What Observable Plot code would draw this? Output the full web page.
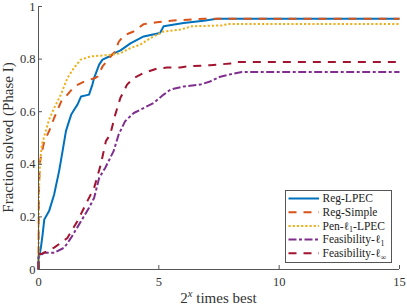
<!DOCTYPE html>
<html><head><meta charset="utf-8">
<script src="https://cdn.jsdelivr.net/npm/d3@7"></script>
<script src="https://cdn.jsdelivr.net/npm/@observablehq/plot@0.6"></script>
<style>body{margin:0;background:#fff}#chart{position:relative;width:407px;height:304px}</style>
</head><body><div id="chart"></div>
<script>
// ---- data ----
const seriesNames = ["Reg-LPEC", "Reg-Simple", "Pen-ℓ1-LPEC", "Feasibility-ℓ1", "Feasibility-ℓ∞"];
const regLpecX = [0, 0, 0.03, 0.1, 0.17, 0.24, 0.44, 0.65, 0.86, 1.0, 1.14, 1.27, 1.36, 1.5, 1.62, 1.77, 2.1, 2.24, 2.31, 2.52, 2.66, 2.94, 3.15, 3.41, 3.82, 4.37, 5.05, 5.2, 6.03, 6.86, 7.42, 15];
const regLpecY = [0, 0.05, 0.05, 0.083, 0.133, 0.19, 0.222, 0.285, 0.376, 0.45, 0.526, 0.564, 0.589, 0.61, 0.627, 0.658, 0.665, 0.703, 0.728, 0.779, 0.798, 0.81, 0.823, 0.833, 0.86, 0.886, 0.899, 0.925, 0.937, 0.946, 0.953, 0.953];
const regSimpleX = [0, 0.02, 0.05, 0.1, 0.24, 0.44, 0.65, 0.97, 1.14, 1.49, 1.9, 2.35, 2.46, 2.66, 3.0, 3.19, 3.33, 3.54, 3.95, 4.37, 4.92, 5.61, 6.86, 15];
const regSimpleY = [0, 0.3, 0.4, 0.43, 0.488, 0.526, 0.576, 0.645, 0.658, 0.696, 0.715, 0.728, 0.734, 0.772, 0.81, 0.83, 0.865, 0.89, 0.905, 0.933, 0.94, 0.947, 0.953, 0.953];
const penL1X = [0, 0.02, 0.06, 0.14, 0.44, 0.65, 0.93, 1.2, 1.47, 1.75, 2.16, 2.71, 3.06, 3.39, 3.82, 4.23, 4.65, 5.2, 5.89, 6.38, 7.68, 7.82, 15];
const penL1Y = [0, 0.3, 0.4, 0.475, 0.57, 0.614, 0.665, 0.728, 0.766, 0.798, 0.81, 0.814, 0.817, 0.822, 0.842, 0.855, 0.88, 0.905, 0.912, 0.925, 0.928, 0.933, 0.933];
const feasL1X = [0, 0, 0.03, 0.24, 0.65, 1.07, 1.35, 1.77, 2.1, 2.31, 2.52, 2.77, 3.12, 3.33, 3.6, 3.96, 4.37, 4.78, 5.2, 5.48, 6.03, 6.72, 7.13, 7.55, 8.1, 8.45, 15];
const feasL1Y = [0, 0.045, 0.05, 0.064, 0.064, 0.083, 0.12, 0.184, 0.235, 0.272, 0.348, 0.386, 0.45, 0.513, 0.564, 0.595, 0.614, 0.633, 0.665, 0.684, 0.696, 0.703, 0.715, 0.733, 0.745, 0.751, 0.751];
const feasInfX = [0, 0, 0.03, 0.14, 0.65, 1.2, 1.62, 2.03, 2.31, 2.59, 2.8, 2.98, 3.19, 3.4, 3.68, 3.96, 4.37, 4.92, 5.34, 5.89, 6.17, 7.13, 7.97, 8.1, 15];
const feasInfY = [0, 0.05, 0.058, 0.06, 0.083, 0.12, 0.184, 0.26, 0.31, 0.4, 0.488, 0.513, 0.589, 0.652, 0.703, 0.728, 0.747, 0.764, 0.768, 0.768, 0.772, 0.777, 0.783, 0.789, 0.789];
const xTicks = [0, 5, 10, 15];
const xTickLabels = ["0", "5", "10", "15"];
const yTicks = [0, 0.2, 0.4, 0.6, 0.8, 1];
const yTickLabels = ["0", "0.2", "0.4", "0.6", "0.8", "1"];

// ---- styles ----
const seriesXs = [regLpecX, regSimpleX, penL1X, feasL1X, feasInfX];
const seriesYs = [regLpecY, regSimpleY, penL1Y, feasL1Y, feasInfY];
const styles = [
  {stroke: "#0072BD", dash: null},
  {stroke: "#D95319", dash: "8,7"},
  {stroke: "#EDB120", dash: "2.2,2"},
  {stroke: "#7E2F8E", dash: "8,2.5,3,2.5"},
  {stroke: "#A2142F", dash: "8,7"}
];
const FONT = "'Liberation Serif', 'DejaVu Serif', serif";

const lineMarks = seriesNames.map((name, i) => {
  const pts = seriesXs[i].map((x, j) => ({series: name, x, y: seriesYs[i][j]}));
  return Plot.line(pts, {x: "x", y: "y", stroke: styles[i].stroke, strokeWidth: 2,
    strokeDasharray: styles[i].dash, strokeLinecap: "butt", strokeLinejoin: "round"});
});

const W = 407, H = 304, ML = 38, MR = 8, MT = 6, MB = 35;
const plot = Plot.plot({
  width: W, height: H, marginLeft: ML, marginRight: MR, marginTop: MT, marginBottom: MB,
  style: {fontFamily: FONT, color: "#333", background: "#fff", overflow: "visible"},
  x: {domain: [0, 15]},
  y: {domain: [0, 1]},
  marks: [
    ...lineMarks,
    Plot.ruleX([0], {stroke: "#555", strokeWidth: 1}),
    Plot.ruleY([0], {stroke: "#555", strokeWidth: 1}),
    Plot.axisX(xTicks, {tickSize: -4, tickPadding: 12, fontSize: 12.5, label: null, stroke: "#555",
      tickFormat: d => xTickLabels[xTicks.indexOf(d)]}),
    Plot.axisY(yTicks, {tickSize: -4, tickPadding: 7, fontSize: 12.5, label: null, stroke: "#555",
      tickFormat: d => yTickLabels[yTicks.indexOf(d)]})
  ]
});
document.getElementById("chart").appendChild(plot);

// ---- axis labels and legend ----
const svg = d3.select(plot);
const cx = (ML + W - MR) / 2, cy = (MT + H - MB) / 2;
svg.append("text").attr("transform", `translate(12.5,${cy}) rotate(-90)`)
  .attr("text-anchor", "middle").attr("fill", "#333").style("font-family", FONT).style("font-size", "15px")
  .text("Fraction solved (Phase I)");
const xl = svg.append("text").attr("x", cx).attr("y", 302.5).attr("text-anchor", "middle")
  .attr("fill", "#333").style("font-family", FONT).style("font-size", "15px");
xl.append("tspan").text("2");
xl.append("tspan").attr("dy", -6).style("font-size", "10.5px").style("font-style", "italic").text("x");
xl.append("tspan").attr("dy", 6).text(" times best");

const lg = svg.append("g").attr("text-anchor", "start");
lg.append("rect").attr("x", 285.5).attr("y", 190.5).attr("width", 106).attr("height", 72)
  .attr("fill", "#fff").attr("stroke", "#555").attr("stroke-width", 1);
const rowY = [198.5, 212.2, 225.9, 239.6, 253.3];
const labelParts = [
  [["Reg-LPEC"]], [["Reg-Simple"]], [["Pen-ℓ"], ["1", true], ["-LPEC"]],
  [["Feasibility-ℓ"], ["1", true]], [["Feasibility-ℓ"], ["∞", true]]
];
seriesNames.forEach((name, i) => {
  lg.append("line").attr("x1", 288.5).attr("x2", 319).attr("y1", rowY[i]).attr("y2", rowY[i])
    .attr("stroke", styles[i].stroke).attr("stroke-width", 2)
    .attr("stroke-dasharray", styles[i].dash).attr("stroke-linecap", "butt");
  const t = lg.append("text").attr("x", 322.5).attr("y", rowY[i] + 3.8).attr("fill", "#222")
    .attr("text-anchor", "start").style("font-family", FONT).style("font-size", "11.5px");
  labelParts[i].forEach(([s, sub], k) => {
    if (sub) t.append("tspan").attr("dy", 2.5).style("font-size", "8px").text(s);
    else {
      const ts = t.append("tspan").text(s);
      if (k > 0) ts.attr("dy", -2.5);
    }
  });
});
</script></body></html>
